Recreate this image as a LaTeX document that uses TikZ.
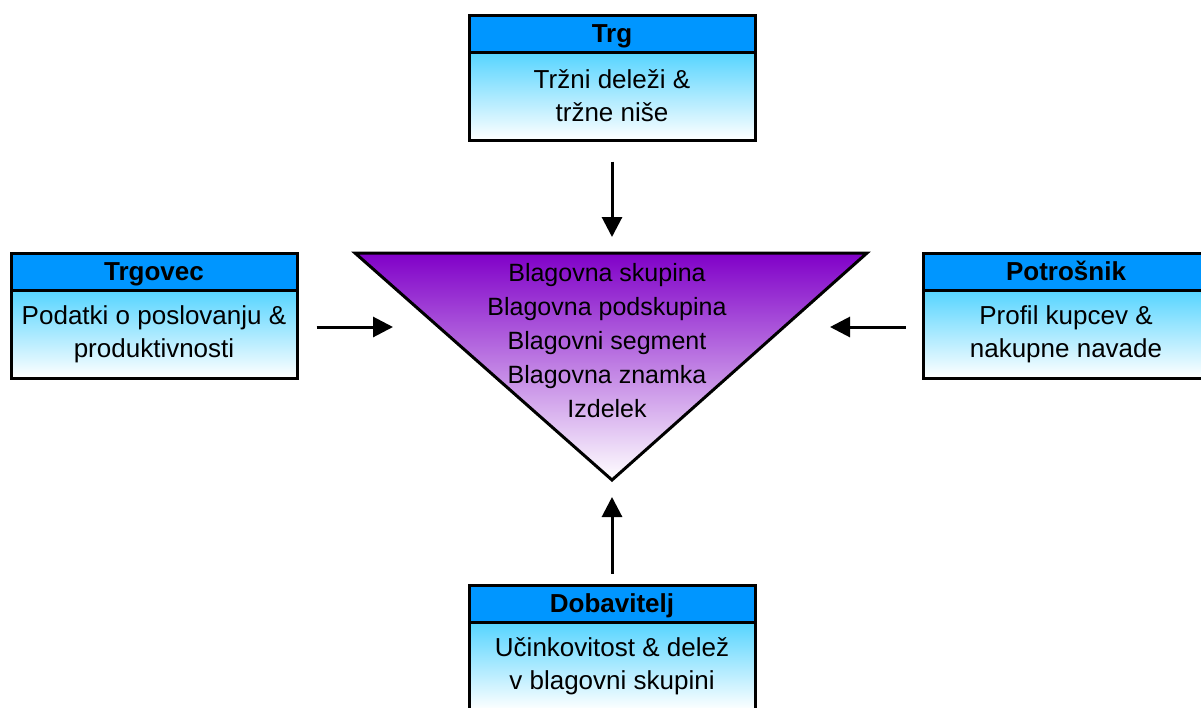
\documentclass[tikz,border=0pt]{standalone}
\usepackage{fontspec}
\setmainfont{Liberation Sans}
\usetikzlibrary{arrows.meta, positioning}
\definecolor{headblue}{RGB}{0,150,255}
\definecolor{bodyblue}{RGB}{85,212,255}
\definecolor{purp}{RGB}{128,0,200}
\definecolor{purpmid}{RGB}{196,135,230}

\begin{document}
\begin{tikzpicture}[
    x=1pt, y=-1pt,
    font=\fontsize{26}{33}\selectfont,
    arr/.style={-{Triangle[length=20pt, width=20pt]}, line width=3pt},
    head/.style={
        rectangle, draw, line width=3pt, fill=headblue,
        minimum width=286pt, minimum height=37pt, inner sep=0pt,
        text height=18.6pt, text depth=0pt,
        font=\fontsize{26}{30}\selectfont\bfseries
    },
    body/.style={
        rectangle, draw, line width=3pt,
        top color=bodyblue, bottom color=white,
        minimum width=286pt, minimum height=88pt,
        align=center, inner sep=0pt
    },
]
    \useasboundingbox (0,0) rectangle (1201,707);

    % Okvirji
    \node[head]                       (trgH) at (612,33.5)   {Trg};
    \node[body, below=-3pt of trgH]   (trg)     {Tržni deleži \&\\tržne niše};
    \node[head]                       (trgovecH) at (154,271.5) {Trgovec};
    \node[body, below=-3pt of trgovecH] (trgovec) {Podatki o poslovanju \&\\produktivnosti};
    \node[head]                       (potrH) at (1066,271.5) {Potrošnik};
    \node[body, below=-3pt of potrH]  (potr)   {Profil kupcev \&\\nakupne navade};
    \node[head]                       (dobH) at (612,603.5)  {Dobavitelj};
    \node[body, below=-3pt of dobH]   (dob)     {Učinkovitost \& delež\\v blagovni skupini};

    % Lijak
    \coordinate (tl) at (355,253);
    \coordinate (tr) at (867,253);
    \coordinate (tb) at (612,480);
    \shadedraw[line width=3pt, line join=miter, top color=purp, middle color=purpmid, bottom color=white]
        (tl) -- (tr) -- (tb) -- cycle;
    \node[align=center, font=\fontsize{25}{34}\selectfont] (tri) at (607,341)
        {Blagovna skupina\\Blagovna podskupina\\Blagovni segment\\Blagovna znamka\\Izdelek};

    % Puščice
    \coordinate (inTop)   at (612,237);
    \coordinate (inLeft)  at (393,327);
    \coordinate (inRight) at (830,327);
    \coordinate (inBot)   at (612,497);
    \draw[arr, shorten <=20pt] (trg) -- (inTop);
    \draw[arr, shorten <=18pt] (trgovec.east |- inLeft) -- (inLeft);
    \draw[arr, shorten <=16pt] (potr.west |- inRight) -- (inRight);
    \draw[arr, shorten <=10pt] (dobH) -- (inBot);

\end{tikzpicture}
\end{document}
